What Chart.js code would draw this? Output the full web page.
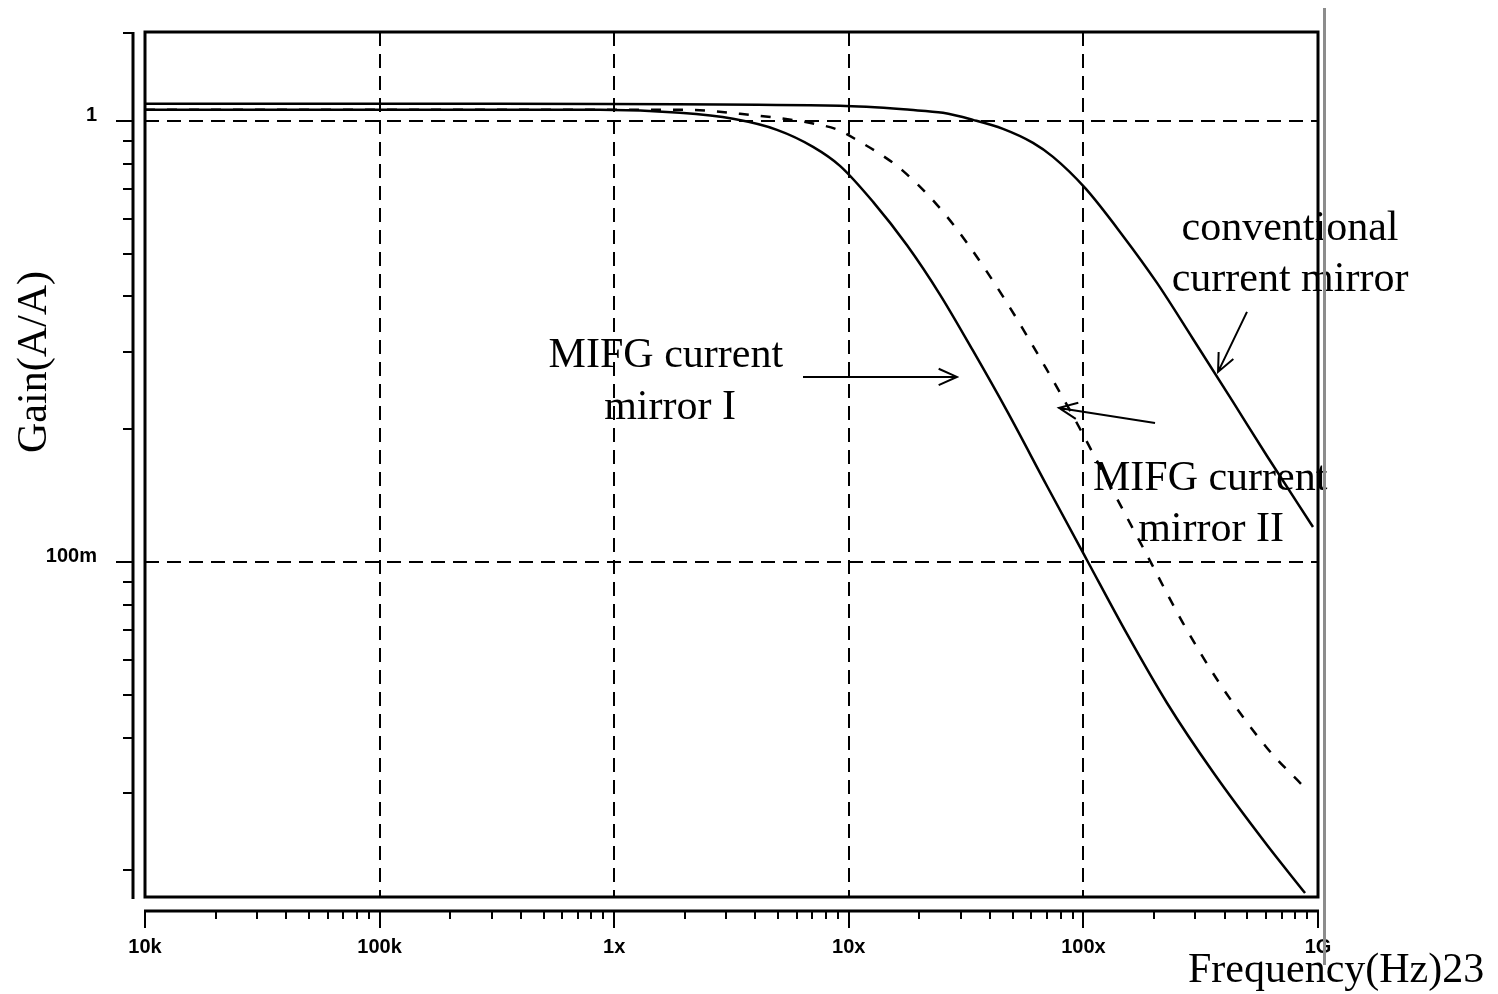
<!DOCTYPE html>
<html>
<head>
<meta charset="utf-8">
<script src="https://cdn.jsdelivr.net/npm/chart.js@4.4.1/dist/chart.umd.min.js"></script>
<style>
  html, body { margin: 0; padding: 0; background: #fff; }
  canvas { display: block; }
</style>
</head>
<body>
<canvas id="c" width="1498" height="994"></canvas>
<script>
// ---- data ----
const xTickValues = [1e4, 1e5, 1e6, 1e7, 1e8, 1e9];
const xTickLabels = ['10k', '100k', '1x', '10x', '100x', '1G'];
const yTickValues = [0.1, 1];
const yTickLabels = ['100m', '1'];

const freqConv = [1e4, 3.26e5, 9.17e6, 1.824e7, 2.52e7, 3.384e7, 4.542e7, 6.099e7, 7.421e7, 1.016e8, 1.475e8, 2.059e8, 2.933e8, 4.342e8, 6.062e8, 9.521e8];
const gainConv = [1.0928, 1.0928, 1.0814, 1.059, 1.0427, 1.0052, 0.9591, 0.8914, 0.8286, 0.7046, 0.5485, 0.4292, 0.3203, 0.2306, 0.1739, 0.1200];

const freqMirrorI = [1e4, 8.70e5, 1.908e6, 3.21e6, 4.94e6, 7.04e6, 9.17e6, 1.269e7, 1.771e7, 2.447e7, 3.384e7, 4.723e7, 6.995e7, 1.046e8, 1.534e8, 2.272e8, 3.568e8, 6.062e8, 8.806e8];
const gainMirrorI = [1.059, 1.059, 1.0427, 1.0105, 0.9541, 0.8730, 0.7906, 0.6551, 0.5222, 0.4038, 0.3012, 0.2200, 0.1487, 0.1000, 0.06868, 0.04790, 0.03340, 0.02282, 0.01776];

const freqMirrorII = [1e4, 2.104e6, 3.438e6, 4.94e6, 7.177e6, 8.995e6, 1.116e7, 1.399e7, 1.702e7, 2.377e7, 3.190e7, 4.723e7, 6.995e7, 9.031e7, 1.261e8, 1.866e8, 2.658e8, 3.822e8, 6.062e8, 8.806e8];
const gainMirrorII = [1.059, 1.059, 1.0372, 1.0158, 0.9845, 0.9541, 0.8962, 0.8329, 0.7702, 0.6451, 0.5290, 0.3867, 0.2724, 0.2143, 0.1535, 0.1037, 0.07271, 0.05290, 0.03788, 0.03073];

const xMin = 1e4, xMax = 1e9;
const yMin = 0.0174, yMax = 1.59;

// annotations in data coordinates
const notes = [
  { text: 'conventional',   f: 7.60e8, g: 0.537 },
  { text: 'current mirror', f: 7.60e8, g: 0.4116 },
  { text: 'MIFG current',   f: 1.66e6, g: 0.2768 },
  { text: 'mirror I',       f: 1.73e6, g: 0.211 },
  { text: 'MIFG current',   f: 3.47e8, g: 0.1457 },
  { text: 'mirror II',      f: 3.50e8, g: 0.1116 }
];
const arrows = [
  { f1: 6.38e6, g1: 0.2627, f2: 2.89e7, g2: 0.2627 },
  { f1: 2.02e8, g1: 0.2066, f2: 7.87e7, g2: 0.2235 },
  { f1: 4.98e8, g1: 0.3689, f2: 3.75e8, g2: 0.2697 }
];

function pts(xs, ys) { return xs.map((x, i) => ({ x: x, y: ys[i] })); }

const decor = {
  id: 'decor',
  afterDraw(chart) {
    const ctx = chart.ctx, ca = chart.chartArea;
    const xs = chart.scales.x, ys = chart.scales.y;
    ctx.save();
    ctx.strokeStyle = '#000';
    ctx.fillStyle = '#000';
    ctx.lineCap = 'butt';
    // plot box
    ctx.lineWidth = 3;
    ctx.strokeRect(ca.left, ca.top, ca.right - ca.left, ca.bottom - ca.top);

    // offset x axis
    const y0 = ca.bottom + 14;
    ctx.lineWidth = 3;
    ctx.beginPath(); ctx.moveTo(ca.left - 1, y0); ctx.lineTo(ca.right + 1, y0); ctx.stroke();
    ctx.lineWidth = 2;
    for (let d = 4; d <= 9; d++) {
      for (let m = 1; m <= 9; m++) {
        const v = m * Math.pow(10, d);
        if (v > xMax) break;
        const px = Math.round(xs.getPixelForValue(v));
        ctx.beginPath();
        ctx.moveTo(px, y0);
        ctx.lineTo(px, y0 + (m === 1 ? 17 : 8));
        ctx.stroke();
      }
    }
    // offset y axis
    const x0 = ca.left - 12;
    ctx.lineWidth = 3;
    ctx.beginPath(); ctx.moveTo(x0, ca.top); ctx.lineTo(x0, ca.bottom + 2); ctx.stroke();
    ctx.lineWidth = 2;
    const yt = [];
    for (let d = -2; d <= 0; d++) for (let m = 1; m <= 9; m++) yt.push([m * Math.pow(10, d), m === 1]);
    yt.forEach(([v, major]) => {
      if (v < yMin || v > yMax) return;
      const py = Math.round(ys.getPixelForValue(v));
      ctx.beginPath(); ctx.moveTo(x0 - (major ? 17 : 10), py); ctx.lineTo(x0, py); ctx.stroke();
    });
    ctx.beginPath(); ctx.moveTo(x0 - 10, ca.top + 1); ctx.lineTo(x0, ca.top + 1); ctx.stroke();

    // annotation texts
    ctx.font = '42px "Liberation Serif", "Times New Roman", serif';
    ctx.textAlign = 'center';
    ctx.textBaseline = 'alphabetic';
    notes.forEach(n => {
      ctx.fillText(n.text, xs.getPixelForValue(n.f), ys.getPixelForValue(n.g));
    });
    // arrows
    ctx.lineWidth = 2;
    arrows.forEach(a => {
      const x1 = xs.getPixelForValue(a.f1), y1 = ys.getPixelForValue(a.g1);
      const x2 = xs.getPixelForValue(a.f2), y2 = ys.getPixelForValue(a.g2);
      const ang = Math.atan2(y2 - y1, x2 - x1);
      const L = 20, sp = 0.42;
      ctx.beginPath();
      ctx.moveTo(x1, y1); ctx.lineTo(x2, y2);
      ctx.moveTo(x2 - L * Math.cos(ang - sp), y2 - L * Math.sin(ang - sp));
      ctx.lineTo(x2, y2);
      ctx.lineTo(x2 - L * Math.cos(ang + sp), y2 - L * Math.sin(ang + sp));
      ctx.stroke();
    });

    // slide divider line
    ctx.strokeStyle = '#8c8c8c';
    ctx.lineWidth = 3;
    ctx.beginPath(); ctx.moveTo(1324.5, 8); ctx.lineTo(1324.5, 965); ctx.stroke();

    // axis titles
    ctx.fillStyle = '#000';
    ctx.textAlign = 'left';
    ctx.fillText('Frequency(Hz)23', 1188, 982);
    ctx.save();
    ctx.translate(46, 362);
    ctx.rotate(-Math.PI / 2);
    ctx.textAlign = 'center';
    ctx.fillText('Gain(A/A)', 0, 0);
    ctx.restore();
    ctx.restore();
  }
};

const tickFont = { family: '"Liberation Sans", Arial, sans-serif', size: 20, weight: 'bold' };

new Chart(document.getElementById('c'), {
  type: 'line',
  data: {
    datasets: [
      { label: 'conventional current mirror', data: pts(freqConv, gainConv),
        borderColor: '#000', borderWidth: 2.5, pointRadius: 0, cubicInterpolationMode: 'monotone', fill: false },
      { label: 'MIFG current mirror I', data: pts(freqMirrorI, gainMirrorI),
        borderColor: '#000', borderWidth: 2.5, pointRadius: 0, cubicInterpolationMode: 'monotone', fill: false },
      { label: 'MIFG current mirror II', data: pts(freqMirrorII, gainMirrorII),
        borderColor: '#000', borderWidth: 2.5, borderDash: [10, 12], pointRadius: 0, cubicInterpolationMode: 'monotone', fill: false }
    ]
  },
  options: {
    responsive: false,
    animation: false,
    devicePixelRatio: 1,
    layout: { padding: { left: 0, top: 32, right: 180, bottom: 0 } },
    plugins: { legend: { display: false }, tooltip: { enabled: false } },
    scales: {
      x: {
        type: 'logarithmic', min: xMin, max: xMax,
        afterFit(s) { s.height = 97; },
        afterBuildTicks(s) { s.ticks = xTickValues.map(v => ({ value: v })); },
        ticks: {
          autoSkip: false, maxRotation: 0, padding: 4, color: '#000',
          font: tickFont,
          callback(v, i) { return xTickLabels[i]; }
        },
        grid: { color: '#000', lineWidth: 2, drawTicks: true, tickLength: 34, tickColor: 'rgba(0,0,0,0)' },
        border: { display: false, dash: [14, 8] }
      },
      y: {
        type: 'logarithmic', min: yMin, max: yMax,
        afterFit(s) { s.width = 145; },
        afterBuildTicks(s) { s.ticks = yTickValues.map(v => ({ value: v })); },
        ticks: {
          autoSkip: false, padding: 4, labelOffset: -5, color: '#000',
          font: tickFont,
          callback(v, i) { return yTickLabels[i]; }
        },
        grid: { color: '#000', lineWidth: 2, drawTicks: true, tickLength: 44, tickColor: 'rgba(0,0,0,0)' },
        border: { display: false, dash: [14, 8] }
      }
    }
  },
  plugins: [decor]
});
</script>
</body>
</html>
